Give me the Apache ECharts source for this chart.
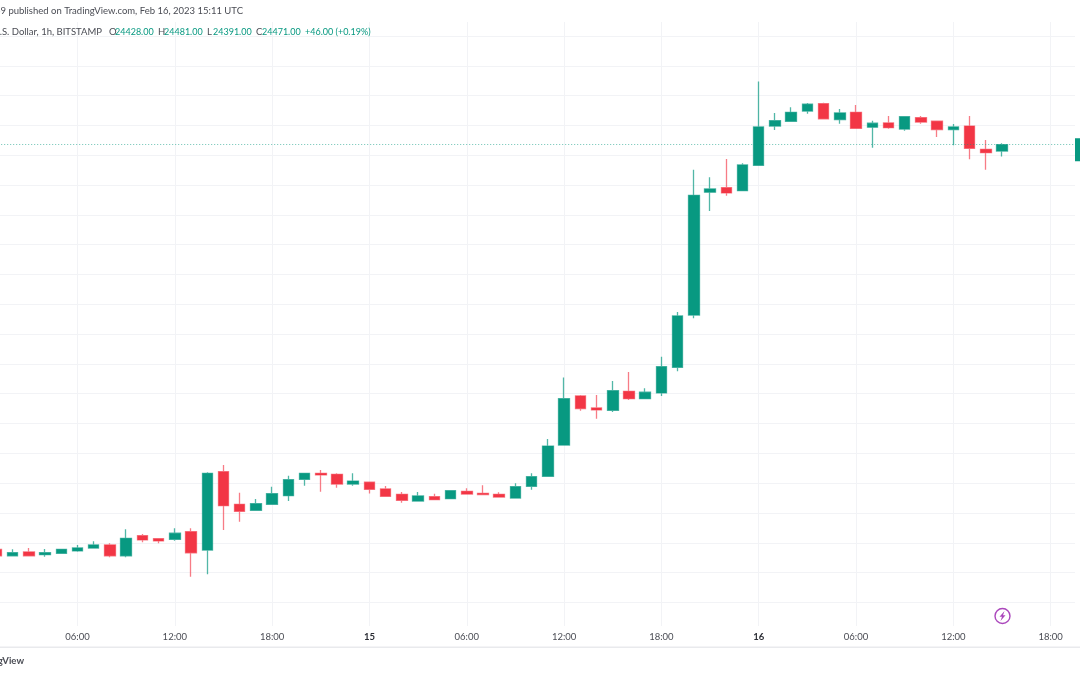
<!DOCTYPE html>
<html>
<head>
<meta charset="utf-8">
<style>html,body{margin:0;padding:0;background:#fff}#c{width:1080px;height:675px}</style>
<script src="https://cdn.jsdelivr.net/npm/echarts@6/dist/echarts.min.js"></script>
</head>
<body>
<div id="c"></div>
<script>
// Hours since 14 Feb 2023 00:00 UTC
const hours = [1,2,3,4,5,6,7,8,9,10,11,12,13,14,15,16,17,18,19,20,21,22,23,24,25,26,27,28,29,30,31,32,33,34,35,36,37,38,39,40,41,42,43,44,45,46,47,48,49,50,51,52,53,54,55,56,57,58,59,60,61,62,63];
const opens = [21755,21713,21738,21720,21729,21745,21765,21785,21713,21847,21827,21823,21874,21751,22277,22058,22018,22058,22116,22226,22266,22259,22194,22206,22161,22125,22080,22109,22096,22145,22132,22125,22100,22179,22246,22456,22785,22704,22689,22816,22767,22805,22977,23328,24152,24182,24162,24333,24596,24628,24697,24746,24639,24688,24588,24617,24576,24652,24628,24572,24596,24440,24428];
const closes = [21713,21733,21713,21733,21756,21765,21785,21713,21830,21819,21812,21864,21733,22266,22049,22011,22062,22129,22223,22266,22255,22194,22214,22159,22112,22085,22114,22089,22149,22127,22123,22107,22176,22243,22449,22767,22700,22691,22820,22767,22810,22981,23322,24131,24174,24147,24335,24590,24632,24688,24742,24645,24684,24581,24615,24585,24659,24623,24572,24590,24447,24417,24471];
const lows = [21711,21713,21713,21706,21725,21740,21760,21702,21702,21803,21796,21814,21572,21588,21886,21941,22018,22058,22080,22183,22143,22169,22183,22131,22112,22069,22080,22089,22096,22127,22119,22107,22100,22156,22241,22456,22686,22632,22677,22758,22767,22785,22951,23306,24026,24129,24162,24333,24570,24628,24679,24645,24612,24581,24451,24578,24565,24612,24523,24467,24373,24303,24391];
const highs = [21758,21756,21765,21758,21758,21785,21810,21796,21890,21859,21832,21897,21897,22273,22322,22136,22094,22176,22250,22266,22288,22266,22266,22210,22181,22141,22141,22129,22154,22165,22186,22139,22199,22266,22496,22908,22792,22792,22885,22946,22836,23048,23348,24303,24252,24375,24346,24894,24684,24722,24751,24753,24711,24737,24632,24664,24659,24664,24628,24610,24664,24503,24481];
const lastPrice = 24471;
const tickHours = [6,12,18,24,30,36,42,48,54,60,66];
const tickLabels = ['06:00','12:00','18:00','15','06:00','12:00','18:00','16','06:00','12:00','18:00'];
const priceTicks = [21400,21600,21800,22000,22200,22400,22600,22800,23000,23200,23400,23600,23800,24000,24200,24400,24600,24800,25000,25200];
const headerText = '69 published on TradingView.com, Feb 16, 2023 15:11 UTC';
const symbolText = 'Bitcoin / U.S. Dollar, 1h, BITSTAMP';
const brandText = 'TradingView';

const FONT = 'Lato';
const GREEN = '#089981', RED = '#F23645';
const DARK = '#4a4c54';

const chart = echarts.init(document.getElementById('c'), null, {renderer: 'canvas'});
const rows = hours.map((h, i) => [h, opens[i], closes[i], lows[i], highs[i]]);
const txt = (x, y, text, fill, align, extra) => ({
  type: 'text', x, y, silent: true, z: 10,
  style: Object.assign({text, fill, align: align || 'left', verticalAlign: 'middle', font: '9.5px ' + FONT}, extra || {})
});
const num = (x, text) => txt(x, 32, text, GREEN, 'left', {font: '9px ' + FONT});
chart.setOption({
  animation: false,
  backgroundColor: '#ffffff',
  grid: {left: -19.8, width: 1094.8, top: 22, height: 604, containLabel: false, outerBoundsMode: 'none'},
  xAxis: {
    type: 'value', min: 0, max: 67.5,
    axisLine: {show: false},
    axisTick: {show: false, customValues: tickHours},
    splitLine: {show: true, lineStyle: {color: '#f2f3f6', width: 1}},
    axisLabel: {
      customValues: tickHours,
      margin: 6,
      fontFamily: FONT, fontSize: 9.5, color: DARK,
      formatter: v => {
        const s = tickLabels[tickHours.indexOf(v)] || '';
        return s.length === 2 ? '{b|' + s + '}' : s;
      },
      rich: {b: {fontFamily: FONT, fontSize: 9.5, fontWeight: 'bold', color: '#2a2c34'}}
    }
  },
  yAxis: {
    type: 'value', min: 21241.5, max: 25294, position: 'right',
    axisLine: {show: false},
    axisTick: {show: false, customValues: priceTicks},
    axisLabel: {show: false},
    splitLine: {show: true, lineStyle: {color: '#f2f3f6', width: 1}}
  },
  series: [{
    type: 'candlestick',
    data: rows,
    encode: {x: 0, y: [1, 2, 3, 4]},
    barWidth: 11,
    itemStyle: {
      color: GREEN, color0: RED,
      borderColor: 'rgba(8,153,129,0.7)', borderColor0: 'rgba(242,54,69,0.65)',
      borderWidth: 1.3
    },
    markLine: {
      silent: true, symbol: 'none', animation: false,
      lineStyle: {type: [1, 2], color: 'rgba(8,153,129,0.6)', width: 1},
      data: [{yAxis: lastPrice}],
      label: {
        show: true, position: 'end', distance: 0, formatter: lastPrice.toFixed(2),
        color: '#fff', backgroundColor: GREEN, fontFamily: FONT, fontSize: 11,
        padding: [6, 4, 6, 7], offset: [0, 5]
      }
    }
  }],
  graphic: [
    txt(243, 11, headerText, DARK, 'right'),
    txt(102, 32, symbolText, DARK, 'right'),
    txt(109, 32, 'O', DARK), num(115, '24428.00'),
    txt(158, 32, 'H', DARK), num(164, '24481.00'),
    txt(207, 32, 'L', DARK), num(213, '24391.00'),
    txt(256, 32, 'C', DARK), num(262, '24471.00'),
    num(305, '+46.00 (+0.19%)'),
    txt(24, 661, brandText, DARK, 'right', {font: 'bold 9.5px ' + FONT}),
    {type: 'rect', silent: true, z: 5, shape: {x: 0, y: 646.5, width: 1080, height: 1.5}, style: {fill: '#e9eaed'}},
    {type: 'circle', silent: true, z: 5, shape: {cx: 1002.5, cy: 616, r: 7.5}, style: {fill: '#fff', stroke: '#ab47bc', lineWidth: 1.4}},
    {type: 'polygon', silent: true, z: 6, shape: {points: [[1004.5,611],[999.5,616.8],[1002,616.8],[1000.5,621],[1005.5,615.2],[1003,615.2]]}, style: {fill: '#ab47bc'}}
  ]
});
</script>
</body>
</html>
